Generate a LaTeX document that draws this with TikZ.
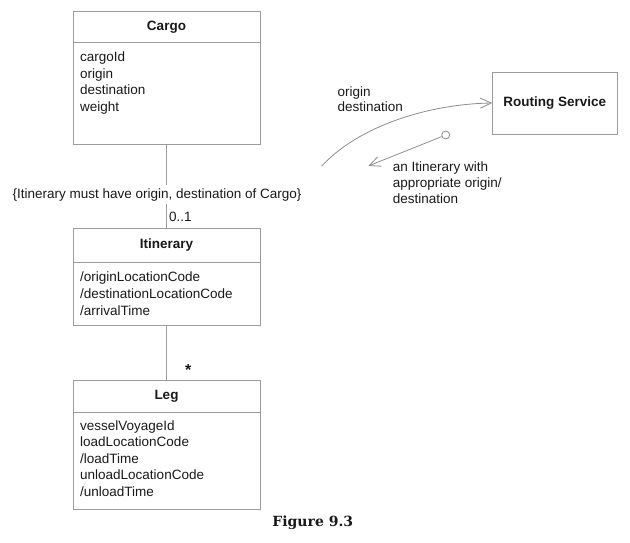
\documentclass[tikz,border=0pt]{standalone}
\usepackage{fontspec}
\setmainfont{Liberation Sans}
\newfontfamily\capfont{DejaVu Serif}
\usetikzlibrary{arrows.meta}
\definecolor{linegray}{RGB}{155,155,155}
\definecolor{arrowgray}{RGB}{140,140,140}
\definecolor{txt}{RGB}{25,25,25}
\begin{document}
\begin{tikzpicture}[x=1pt,y=-1pt,
  every node/.style={text=txt},
  classbox/.style={draw=linegray, line width=0.8pt, inner sep=0pt, minimum width=187pt},
  divider/.style={draw=linegray, line width=0.8pt},
  assoc/.style={draw=linegray, line width=0.8pt},
  headtext/.style={font=\bfseries\fontsize{13.5}{16}\selectfont, inner sep=0pt},
  attrtext/.style={font=\fontsize{13.5}{16}\selectfont, inner sep=0pt, anchor=base west},
  arrowline/.style={draw=arrowgray, line width=0.8pt, -{Straight Barb[length=11pt,width=10pt]}}]
\useasboundingbox (0,0) rectangle (630,543);

% Cargo
\node[classbox, minimum height=132.3pt] (cargo) at (166.5,77.85) {};
\draw[divider] (cargo.west |- 0,42.7) -- (cargo.east |- 0,42.7);
\node[headtext] (cargoname) at (166.5,27.5) {Cargo};
\foreach \t [count=\i] in {cargoId,origin,destination,weight}
  \node[attrtext] (cargoattr\i) at (80,{61.7+16.65*(\i-1)}) {\t};

% Itinerary
\node[classbox, minimum height=97pt] (itin) at (166.5,276.5) {};
\draw[divider] (itin.west |- 0,262.7) -- (itin.east |- 0,262.7);
\node[headtext] (itinname) at (166.5,245.5) {Itinerary};
\foreach \t [count=\i] in {/originLocationCode,/destinationLocationCode,/arrivalTime}
  \node[attrtext] (itinattr\i) at (80,{281.7+16.65*(\i-1)}) {\t};

% Leg
\node[classbox, minimum height=129pt] (leg) at (166.5,444.5) {};
\draw[divider] (leg.west |- 0,412.7) -- (leg.east |- 0,412.7);
\node[headtext] (legname) at (166.5,396.5) {Leg};
\foreach \t [count=\i] in {vesselVoyageId,loadLocationCode,/loadTime,unloadLocationCode,/unloadTime}
  \node[attrtext] (legattr\i) at (80,{430+16.5*(\i-1)}) {\t};

% Associations
\node[font=\fontsize{13.5}{16}\selectfont, inner xsep=0pt, inner ysep=3pt, anchor=base] (constraint) at (157,198.3) {\{Itinerary must have origin, destination of Cargo\}};
\draw[assoc] (cargo.south) -- (constraint.north -| cargo.south);
\draw[assoc] (constraint.south -| cargo.south) -- (itin.north);
\node[attrtext] (mult01) at (169,221.5) {0..1};
\draw[assoc] (itin.south) -- (leg.north);
\node[font=\bfseries\fontsize{16}{18}\selectfont, inner sep=0pt] (multstar) at (188.3,369.5) {*};

% Routing Service
\node[draw=linegray, line width=0.8pt, minimum width=124.3pt, minimum height=62pt, inner sep=0pt,
      font=\bfseries\fontsize{13.5}{16}\selectfont] (rs) at (554.8,103) {Routing Service};
\coordinate (curvestart) at (321.7,166);
\draw[arrowline] (curvestart) .. controls (360,125) and (430,104) .. (rs.west);
\node[attrtext] (reqlabel1) at (337.3,96) {origin};
\node[attrtext] (reqlabel2) at (337.3,111.3) {destination};

\node[circle, draw=arrowgray, line width=0.8pt, minimum size=8pt, inner sep=0pt] (lolli) at (445.7,135) {};
\coordinate (itinret) at (368.3,166);
\draw[arrowline] (lolli) -- (itinret);
\node[attrtext] (replabel1) at (392.7,171.5) {an Itinerary with};
\node[attrtext] (replabel2) at (392.7,187.5) {appropriate origin/};
\node[attrtext] (replabel3) at (392.7,203) {destination};

% Caption
\node[font=\capfont\bfseries\fontsize{14}{16}\selectfont, inner sep=0pt] (caption) at (312.8,523) {Figure 9.3};
\end{tikzpicture}
\end{document}
